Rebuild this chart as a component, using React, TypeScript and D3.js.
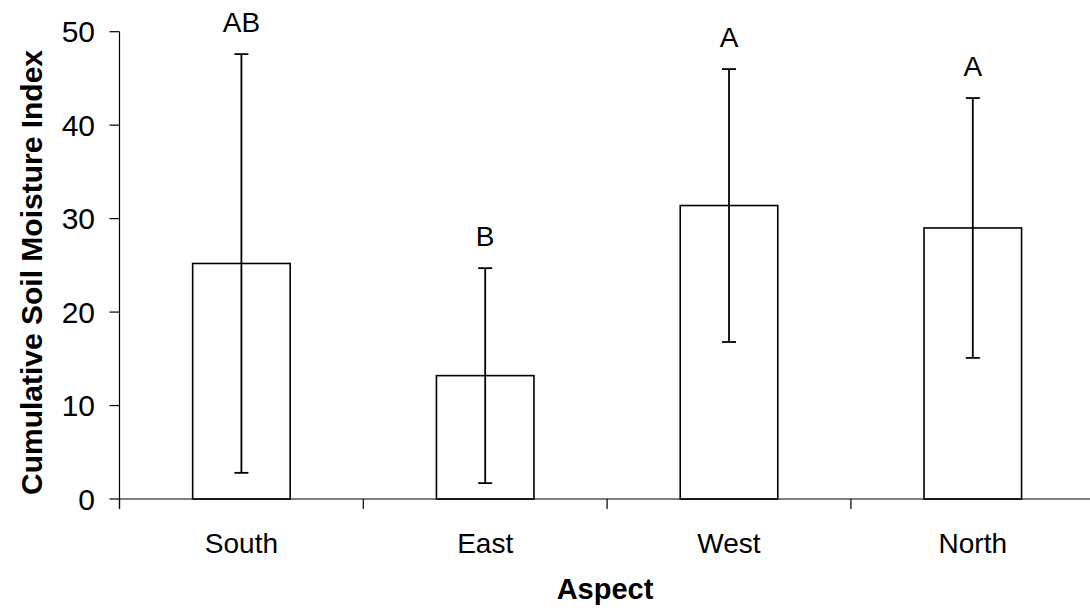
import React from "react";
import * as d3 from "d3";

// Cumulative soil moisture index by slope aspect (mean ± error)
const aspects = ["South", "East", "West", "North"];
const meanValues = [25.2, 13.2, 31.4, 29.0];
const errorValues = [22.4, 11.5, 14.6, 13.9];
const groupLetters = ["AB", "B", "A", "A"];
const yTicks = [0, 10, 20, 30, 40, 50];

const W = 1090;
const H = 616;
const FONT = "'Liberation Sans', Arial, Helvetica, sans-serif";

export default function App() {
  const left = 119.5;
  const bandW = 243.8;
  const x = d3
    .scaleBand<string>()
    .domain(aspects)
    .range([left, left + bandW * aspects.length])
    .paddingInner(0)
    .paddingOuter(0);
  const y = d3.scaleLinear().domain([0, 50]).range([499, 31.7]);

  const barW = x.bandwidth() * 0.4;
  const capW = 14;
  const boundaries = aspects.map((a) => x(a) as number).concat([left + bandW * aspects.length]);

  return (
    <svg
      width={W}
      height={H}
      style={{ position: "absolute", left: 0, top: 0, background: "#fff" }}
      fontFamily={FONT}
    >
      <rect width={W} height={H} fill="#fff" />

      {/* bars */}
      {aspects.map((a, i) => {
        const cx = (x(a) as number) + x.bandwidth() / 2;
        return (
          <rect
            key={a}
            x={cx - barW / 2}
            y={y(meanValues[i])}
            width={barW}
            height={y(0) - y(meanValues[i])}
            fill="#fff"
            stroke="#000"
            strokeWidth={1.6}
          />
        );
      })}

      {/* error bars */}
      {aspects.map((a, i) => {
        const cx = (x(a) as number) + x.bandwidth() / 2;
        const hi = y(meanValues[i] + errorValues[i]);
        const lo = y(meanValues[i] - errorValues[i]);
        return (
          <g key={a} stroke="#000" strokeWidth={1.8}>
            <line x1={cx} x2={cx} y1={hi} y2={lo} />
            <line x1={cx - capW / 2} x2={cx + capW / 2} y1={hi} y2={hi} />
            <line x1={cx - capW / 2} x2={cx + capW / 2} y1={lo} y2={lo} />
          </g>
        );
      })}

      {/* significance letters */}
      {aspects.map((a, i) => {
        const cx = (x(a) as number) + x.bandwidth() / 2;
        return (
          <text
            key={a}
            x={cx}
            y={y(meanValues[i] + errorValues[i]) - 22}
            textAnchor="middle"
            fontSize={28}
            fill="#000"
          >
            {groupLetters[i]}
          </text>
        );
      })}

      {/* y axis */}
      <line x1={left} x2={left} y1={y(50)} y2={y(0) + 10} stroke="#000" strokeWidth={1.2} />
      {yTicks.map((t) => (
        <g key={t}>
          <line x1={left - 10} x2={left} y1={y(t)} y2={y(t)} stroke="#000" strokeWidth={1.2} />
          <text x={95} y={y(t) + 10.5} textAnchor="end" fontSize={30} fill="#000">
            {t}
          </text>
        </g>
      ))}

      {/* x axis */}
      <line x1={left} x2={W} y1={y(0)} y2={y(0)} stroke="#000" strokeWidth={1.2} />
      {boundaries.map((b, i) => (
        <line key={i} x1={b} x2={b} y1={y(0)} y2={y(0) + 10} stroke="#000" strokeWidth={1.2} />
      ))}
      {aspects.map((a) => (
        <text
          key={a}
          x={(x(a) as number) + x.bandwidth() / 2}
          y={553}
          textAnchor="middle"
          fontSize={28}
          fill="#000"
        >
          {a}
        </text>
      ))}

      {/* axis titles */}
      <text x={605} y={599} textAnchor="middle" fontSize={29} fontWeight="bold" fill="#000">
        Aspect
      </text>
      <text
        transform={`translate(42,272.5) rotate(-90)`}
        textAnchor="middle"
        fontSize={30}
        fontWeight="bold"
        fill="#000"
      >
        Cumulative Soil Moisture Index
      </text>
    </svg>
  );
}
